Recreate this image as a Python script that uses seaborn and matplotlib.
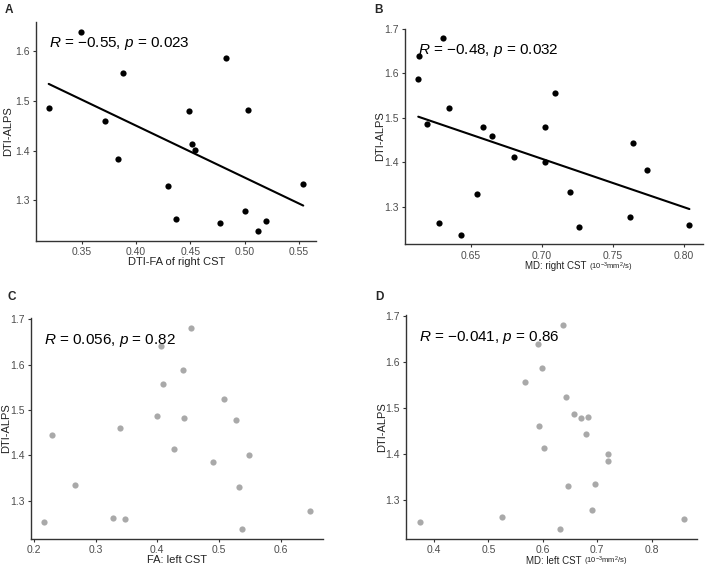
import numpy as np
import pandas as pd
import matplotlib
matplotlib.use("Agg")
import matplotlib.pyplot as plt
import seaborn as sns

# ---------------- data ----------------
a_fa_right = [0.349, 0.3195, 0.3876, 0.371, 0.383, 0.483, 0.449, 0.503, 0.4516, 0.4544,
              0.4298, 0.4366, 0.4769, 0.5003, 0.520, 0.512, 0.554]
a_alps = [1.639, 1.487, 1.557, 1.460, 1.384, 1.587, 1.479, 1.481, 1.4126, 1.4007,
          1.329, 1.263, 1.254, 1.278, 1.259, 1.2385, 1.334]

b_md_right = [0.6133, 0.6128, 0.6306, 0.6346, 0.6187, 0.6274, 0.6428, 0.6544, 0.6586, 0.6645,
              0.6801, 0.7021, 0.7024, 0.7091, 0.7264, 0.7199, 0.7620, 0.7643, 0.7741, 0.8040]
b_alps = [1.6386, 1.587, 1.679, 1.5225, 1.4865, 1.2626, 1.2378, 1.329, 1.479, 1.4603,
          1.4124, 1.4805, 1.4004, 1.557, 1.2536, 1.3337, 1.2783, 1.4438, 1.3839, 1.2588]

c_fa_left = [0.2162, 0.2285, 0.2657, 0.3276, 0.347, 0.3389, 0.3992, 0.4057, 0.410, 0.4277,
             0.4412, 0.4428, 0.4541, 0.4902, 0.5079, 0.5279, 0.5327, 0.5483, 0.5381, 0.6479]
c_alps = [1.2536, 1.4444, 1.3339, 1.2632, 1.2595, 1.4606, 1.4871, 1.6403, 1.5578, 1.4134,
          1.588, 1.482, 1.6808, 1.3847, 1.5239, 1.479, 1.3295, 1.4017, 1.2381, 1.2786]

d_md_left = [0.3737, 0.5248, 0.567, 0.592, 0.5988, 0.5927, 0.603, 0.6324, 0.6379, 0.6428,
             0.6471, 0.6581, 0.6703, 0.6832, 0.6801, 0.6905, 0.6966, 0.7205, 0.7205, 0.8593]
d_alps = [1.2527, 1.2622, 1.556, 1.6382, 1.5858, 1.460, 1.412, 1.2375, 1.6789, 1.5225,
          1.3291, 1.4862, 1.4782, 1.4804, 1.4433, 1.2775, 1.3335, 1.3836, 1.4004, 1.2585]

a_xticks = [0.35, 0.40, 0.45, 0.50, 0.55]
a_yticks = [1.3, 1.4, 1.5, 1.6]
b_xticks = [0.65, 0.70, 0.75, 0.80]
b_yticks = [1.3, 1.4, 1.5, 1.6, 1.7]
c_xticks = [0.2, 0.3, 0.4, 0.5, 0.6]
c_yticks = [1.3, 1.4, 1.5, 1.6, 1.7]
d_xticks = [0.4, 0.5, 0.6, 0.7, 0.8]
d_yticks = [1.3, 1.4, 1.5, 1.6, 1.7]

a_stat = r"$\mathit{R}$ = −0.55, $\mathit{p}$ = 0.023"
b_stat = r"$\mathit{R}$ = −0.48, $\mathit{p}$ = 0.032"
c_stat = r"$\mathit{R}$ = 0.056, $\mathit{p}$ = 0.82"
d_stat = r"$\mathit{R}$ = −0.041, $\mathit{p}$ = 0.86"

a_xlabel = ("DTI-FA of right CST", None)
b_xlabel = ("MD: right CST", r"(10$^{-3}$mm$^{2}$/s)")
c_xlabel = ("FA: left CST", None)
d_xlabel = ("MD: left CST", r"(10$^{-3}$mm$^{2}$/s)")
ylabel = "DTI-ALPS"

# ---------------- style ----------------
sns.set_theme(style="ticks")
plt.rcParams["font.family"] = ["Liberation Sans", "DejaVu Sans"]
plt.rcParams["mathtext.fontset"] = "custom"
plt.rcParams["mathtext.rm"] = "Liberation Sans"
plt.rcParams["mathtext.it"] = "Liberation Sans:italic"
plt.rcParams["axes.unicode_minus"] = True

fig = plt.figure(figsize=(7.08, 5.67), dpi=100)

panels = [
    # label, x, y, xticks, yticks, stat, xlabel, colour, fit, rect, fmt, letter pos, ylabel x, xlabel x
    ("A", a_fa_right, a_alps, a_xticks, a_yticks, a_stat, a_xlabel, "black", True,
     [0.0508, 0.575, 0.3955, 0.3862], "%.2f", (0.007, 0.993), -0.083, 0.5025),
    ("B", b_md_right, b_alps, b_xticks, b_yticks, b_stat, b_xlabel, "black", True,
     [0.5716, 0.5691, 0.4213, 0.3806], "%.2f", (0.528, 0.993), -0.065, 0.402),
    ("C", c_fa_left, c_alps, c_xticks, c_yticks, c_stat, c_xlabel, "#a9a9a9", False,
     [0.0434, 0.0494, 0.4133, 0.3898], "%.1f", (0.010, 0.486), -0.067, 0.50),
    ("D", d_md_left, d_alps, d_xticks, d_yticks, d_stat, d_xlabel, "#a9a9a9", False,
     [0.5739, 0.0499, 0.4110, 0.3940], "%.1f", (0.530, 0.486), -0.067, 0.412),
]

def expanded(v, frac=0.05):
    lo, hi = min(v), max(v)
    pad = (hi - lo) * frac
    return lo - pad, hi + pad

for (lab, xs, ys, xt, yt, stat, xl, col, fit, rect, fmt, lpos, ylx, xlx) in panels:
    ax = fig.add_axes(rect)
    df = pd.DataFrame({"x": xs, "y": ys})
    sns.scatterplot(data=df, x="x", y="y", ax=ax, color=col, s=20,
                    linewidth=0, legend=False, zorder=3)
    if fit:
        sns.regplot(data=df, x="x", y="y", ax=ax, scatter=False, ci=None,
                    line_kws={"color": "black", "lw": 1.5})
    ax.set_xlim(*expanded(xs))
    ax.set_ylim(*expanded(ys))
    ax.set_xticks(xt)
    ax.set_xticklabels([fmt % v for v in xt])
    ax.set_yticks(yt)
    ax.set_yticklabels(["%.1f" % v for v in yt])
    ax.tick_params(axis="both", labelsize=7.5, labelcolor="#4d4d4d",
                   color="#333333", length=2.5, width=0.8, pad=2)
    for s in ["top", "right"]:
        ax.spines[s].set_visible(False)
    for s in ["left", "bottom"]:
        ax.spines[s].set_color("#333333")
        ax.spines[s].set_linewidth(1.0)
    ax.set_xlabel("")
    ax.set_ylabel(ylabel, fontsize=8, color="#222222")
    ax.yaxis.set_label_coords(ylx, 0.5)

    main, unit = xl
    if unit is None:
        ax.annotate(main, xy=(xlx, 0), xycoords="axes fraction",
                    xytext=(0, -21.5 * 0.72), textcoords="offset points",
                    ha="center", va="center", fontsize=8, color="#222222")
    else:
        base = -25.0 * 0.72  # baseline, points below the x axis line
        t1 = ax.annotate(main, xy=(xlx, 0), xycoords="axes fraction",
                         xytext=(0, base), textcoords="offset points",
                         ha="left", va="baseline", fontsize=7.0, color="#222222")
        ax.annotate(unit, xy=(1.0, 0), xycoords=(t1, "axes fraction"),
                    xytext=(2.0, base), textcoords="offset points",
                    ha="left", va="baseline", fontsize=5.5, color="#222222")

    ax.text(0.045, 0.90, stat, transform=ax.transAxes, fontsize=11,
            ha="left", va="center", color="black")
    fig.text(lpos[0], lpos[1], lab, fontsize=8.5, fontweight="bold",
             ha="left", va="top")

fig.savefig("out.png", dpi=100)
